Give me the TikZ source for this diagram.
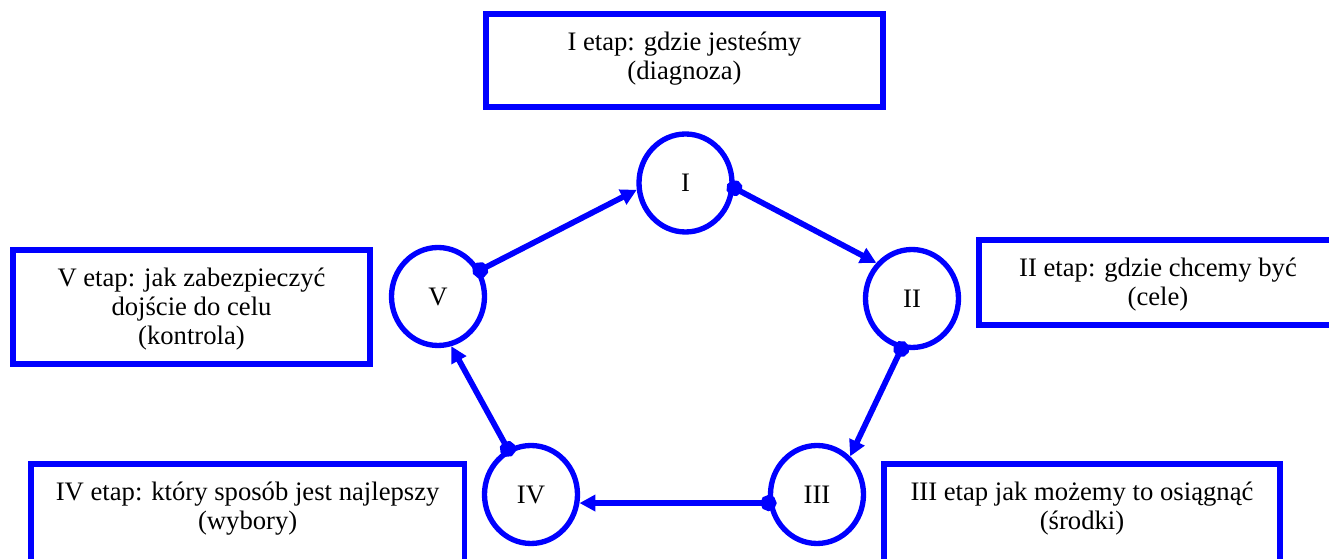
\documentclass[tikz,border=0pt]{standalone}
\usepackage{fontspec}
\setmainfont{Liberation Serif}
\usetikzlibrary{arrows.meta,shapes.geometric}
\newcommand{\stagetext}[3]{\parbox[c][#2][t]{#1}{\centering\baselineskip=21.75pt\vspace*{11.8pt}\strut #3}}

\begin{document}
\begin{tikzpicture}[x=0.75pt, y=-0.75pt,
    every node/.style={font=\rmfamily\fontsize{20pt}{21.75pt}\selectfont},
    stage/.style={ellipse, draw=blue, line width=4pt, minimum width=69.75pt, minimum height=73.5pt, inner sep=0pt},
    stagebox/.style={rectangle, draw=blue, line width=4pt, inner sep=0pt, outer sep=0pt, anchor=north west},
    link/.style={draw=blue, line width=4.3pt, {Circle[length=12pt]}-{Triangle[length=12pt,width=12pt]}, shorten <=-6pt}]
      \clip (0,0) rectangle (1329,559);
      % opisy etapow
      \node[stagebox] (bI) at (486,14) {\stagetext{297.75pt}{69.75pt}{I etap: gdzie jesteśmy\\(diagnoza)}};
      \node[stagebox] (bII) at (979,240) {\stagetext{268.5pt}{63.75pt}{II etap: gdzie chcemy być\\(cele)}};
      \node[stagebox] (bIII) at (884,464) {\stagetext{297pt}{82.5pt}{III etap jak możemy to osiągnąć\\(środki)}};
      \node[stagebox] (bIV) at (31,464) {\stagetext{325pt}{82.5pt}{IV etap: który sposób jest najlepszy\\(wybory)}};
      \node[stagebox] (bV) at (13,250) {\stagetext{267.75pt}{85.5pt}{V etap: jak zabezpieczyć\\dojście do celu\\(kontrola)}};
      % etapy
      \node[stage] (cI) at (685.5,183) {I};
      \node[stage] (cII) at (912,298.5) {II};
      \node[stage] (cIII) at (817,494.5) {III};
      \node[stage] (cIV) at (531,494.5) {IV};
      \node[stage] (cV) at (438,296.5) {V};
      \draw[link] (cI.-6) -- (cII.135);
      \draw[link] (cII.-102) -- (cIII.49);
      \draw[link] (cIII.190) -- (cIV.-10);
      \draw[link] (cIV.117) -- (cV.-75);
      \draw[link] (cV.32) -- (cI.188);

    \end{tikzpicture}
\end{document}
